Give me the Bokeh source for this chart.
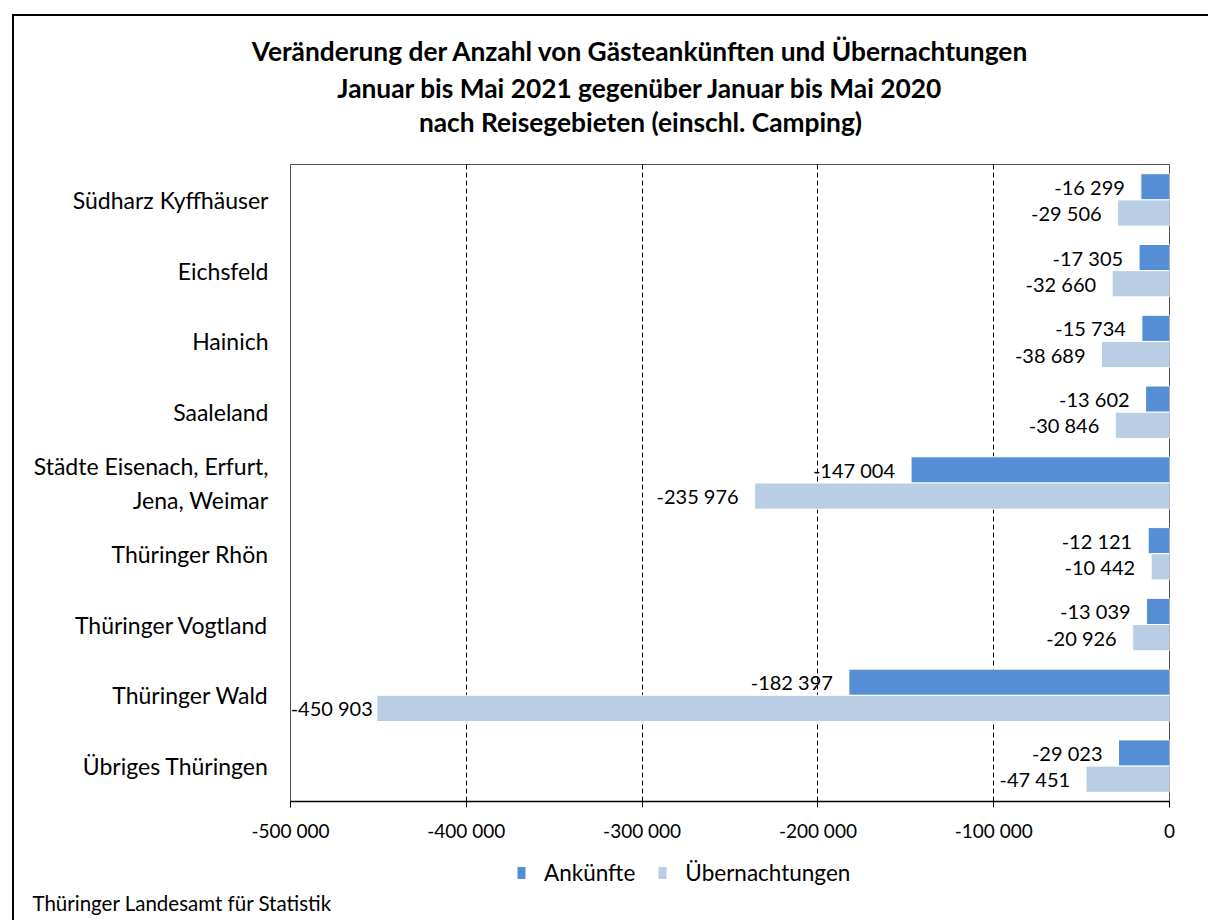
import numpy as np
from bokeh.plotting import figure
from bokeh.layouts import column
from bokeh.models import (FactorRange, Range1d, ColumnDataSource, Legend, LegendItem,
                          Label, FixedTicker, CustomJSTickFormatter)
from bokeh.core.properties import value
from bokeh.transform import dodge
from bokeh.embed import file_html
from bokeh.resources import INLINE

categories = ["Südharz Kyffhäuser", "Eichsfeld", "Hainich", "Saaleland",
              "Städte Eisenach, Erfurt,\nJena, Weimar", "Thüringer Rhön",
              "Thüringer Vogtland", "Thüringer Wald", "Übriges Thüringen"]
ankuenfte = [-16299, -17305, -15734, -13602, -147004, -12121, -13039, -182397, -29023]
uebernachtungen = [-29506, -32660, -38689, -30846, -235976, -10442, -20926, -450903, -47451]
x_ticks = [-500000, -400000, -300000, -200000, -100000, 0]
series_names = ["Ankünfte", "Übernachtungen"]

title_lines = ["Veränderung der Anzahl von Gästeankünften und Übernachtungen",
               "Januar bis Mai 2021 gegenüber Januar bis Mai 2020",
               "nach Reisegebieten (einschl. Camping)"]
source_text = "Thüringer Landesamt für Statistik"

FONT = "Lato"
DARK = "#558ED5"
LIGHT = "#B9CDE5"
W = 1194
H_HEAD, H_MAIN, H_FOOT = 146, 684, 74


def fmt(v):
    s = f"{abs(v):,}".replace(",", " ")
    return ("-" if v < 0 else "") + s


def label_offset(v):
    # labels sit outside the bar end, but are pushed inside the plot area near the left edge
    return -4 if v < -400000 else -16


src = ColumnDataSource(dict(
    cat=categories, a=ankuenfte, u=uebernachtungen,
    a_lbl=[fmt(v) for v in ankuenfte], u_lbl=[fmt(v) for v in uebernachtungen],
    a_off=[label_offset(v) for v in ankuenfte], u_off=[label_offset(v) for v in uebernachtungen],
))

# ---------- header with title ----------
head = figure(width=W, height=H_HEAD, output_backend="svg", toolbar_location=None,
              x_range=Range1d(0, W), y_range=Range1d(H_HEAD, 0),
              x_axis_type=None, y_axis_type=None, min_border=0)
head.frame_align = False
head.outline_line_color = None
head.grid.visible = False
for t, y in zip(title_lines, [34, 71, 105]):
    head.add_layout(Label(x=626, y=y, text=t, text_align="center", text_baseline="middle",
                          text_font=FONT, text_font_style="bold", text_font_size="26.3px",
                          text_color="black"))

# ---------- main chart ----------
p = figure(width=W, height=H_MAIN, output_backend="svg", toolbar_location=None,
           y_range=FactorRange(factors=list(reversed(categories))),
           x_range=Range1d(-500000, 0),
           min_border_left=276, min_border_right=39, min_border_top=2, min_border_bottom=45)
p.frame_align = False
p.outline_line_color = "#505050"
p.outline_line_width = 1

r_a = p.hbar(y=dodge("cat", 0.185, range=p.y_range), right="a", left=0, height=0.37,
             source=src, fill_color=DARK, line_color="white", line_width=1)
r_u = p.hbar(y=dodge("cat", -0.185, range=p.y_range), right="u", left=0, height=0.37,
             source=src, fill_color=LIGHT, line_color="white", line_width=1)

p.text(x="a", y=dodge("cat", 0.185, range=p.y_range), text="a_lbl", source=src,
       x_offset="a_off", text_align="right", text_baseline="middle",
       text_font=value(FONT), text_font_size="20px", text_color="black")
p.text(x="u", y=dodge("cat", -0.185, range=p.y_range), text="u_lbl", source=src,
       x_offset="u_off", text_align="right", text_baseline="middle",
       text_font=value(FONT), text_font_size="20px", text_color="black")

xa = p.xaxis[0]
xa.ticker = FixedTicker(ticks=x_ticks)
xa.formatter = CustomJSTickFormatter(code="""
const s = Math.abs(tick).toFixed(0).replace(/\\B(?=(\\d{3})+(?!\\d))/g, ' ');
return (tick < 0 ? '-' : '') + s;
""")
xa.axis_line_color = "black"
xa.axis_line_width = 1.5
xa.major_tick_line_color = "black"
xa.major_tick_out = 6
xa.major_tick_in = 0
xa.minor_tick_line_color = None
xa.major_label_text_font = FONT
xa.major_label_text_font_size = "19px"
xa.major_label_text_color = "black"
xa.major_label_standoff = 11

ya = p.yaxis[0]
ya.axis_line_color = None
ya.major_tick_line_color = None
ya.major_tick_out = 0
ya.major_label_text_font = FONT
ya.major_label_text_font_size = "23px"
ya.major_label_text_color = "black"
ya.major_label_standoff = 22

p.xgrid.ticker = FixedTicker(ticks=x_ticks)
p.xgrid.grid_line_color = "black"
p.xgrid.grid_line_dash = "5 3"
p.xgrid.grid_line_width = 1
p.ygrid.grid_line_color = None

# ---------- footer with legend and source ----------
foot = figure(width=W, height=H_FOOT, output_backend="svg", toolbar_location=None,
              x_range=Range1d(0, W), y_range=Range1d(H_FOOT, 0),
              x_axis_type=None, y_axis_type=None, min_border=0)
foot.frame_align = False
foot.outline_line_color = None
foot.grid.visible = False
proxy = ColumnDataSource(dict(y=[np.nan], right=[np.nan]))
f_a = foot.hbar(y="y", right="right", left=0, height=1, source=proxy,
                fill_color=DARK, line_color=None)
f_u = foot.hbar(y="y", right="right", left=0, height=1, source=proxy,
                fill_color=LIGHT, line_color=None)
legend = Legend(items=[LegendItem(label=series_names[0], renderers=[f_a]),
                       LegendItem(label=series_names[1], renderers=[f_u])],
                orientation="horizontal", location=(502, 34),
                border_line_color=None, background_fill_alpha=0,
                padding=0, margin=0, spacing=22, label_standoff=18,
                glyph_width=10, glyph_height=15,
                label_text_font=FONT, label_text_font_size="22.5px",
                label_text_color="black")
foot.add_layout(legend)
foot.add_layout(Label(x=18, y=56, text=source_text, text_align="left", text_baseline="middle",
                      text_font=FONT, text_font_size="20.5px", text_color="black"))

layout = column(head, p, foot, spacing=0)
layout.styles = {"margin-left": "12px", "margin-top": "14px",
                 "border-left": "2px solid black", "border-top": "2px solid black"}

open("out.html", "w").write(file_html(layout, INLINE))
